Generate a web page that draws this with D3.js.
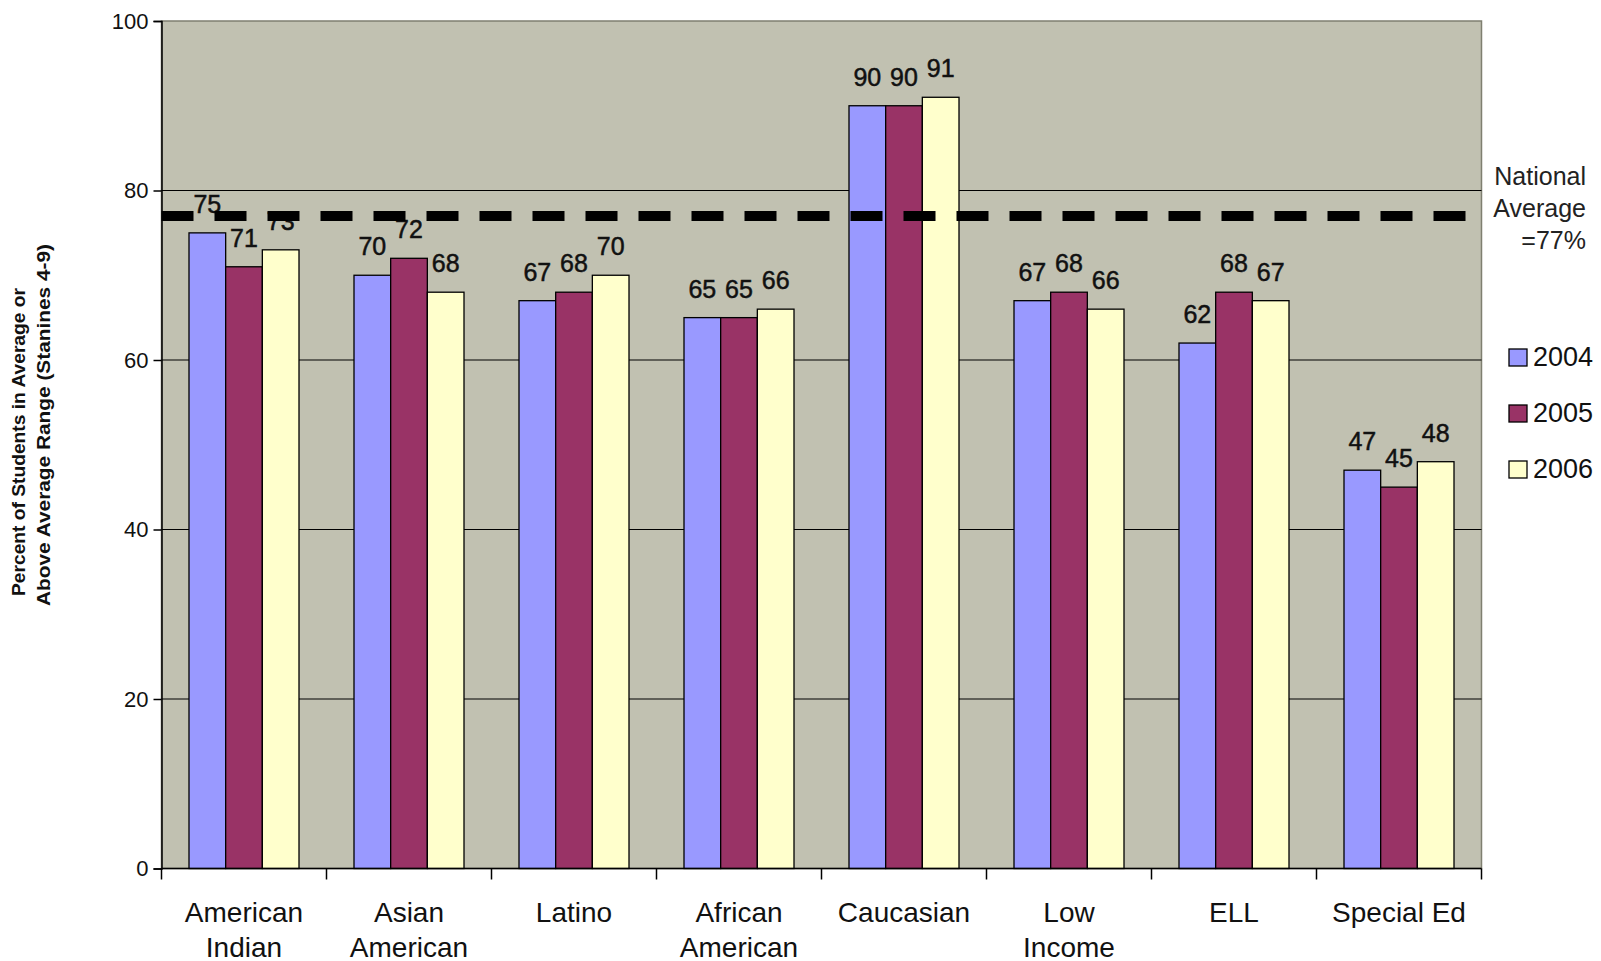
<!DOCTYPE html>
<html>
<head>
<meta charset="utf-8">
<script src="https://cdn.jsdelivr.net/npm/d3@7"></script>
<style>
  html, body { margin: 0; padding: 0; background: #ffffff; }
  svg { display: block; font-family: Arial, "Liberation Sans", sans-serif; }
</style>
</head>
<body>
<svg id="chart" width="1601" height="961"></svg>
<script>
// Student groups along the x axis (each may wrap onto two lines)
const categories = ["American Indian", "Asian American", "Latino", "African American",
                    "Caucasian", "Low Income", "ELL", "Special Ed"];
const categoryLines = [["American", "Indian"], ["Asian", "American"], ["Latino"], ["African", "American"],
                       ["Caucasian"], ["Low", "Income"], ["ELL"], ["Special Ed"]];
const years = ["2004", "2005", "2006"];

// Percent of students in the average or above-average range, per year
const values2004 = [75, 70, 67, 65, 90, 67, 62, 47];
const values2005 = [71, 72, 68, 65, 90, 68, 68, 45];
const values2006 = [73, 68, 70, 66, 91, 66, 67, 48];

const nationalAverage = 77;
const yTicks = [0, 20, 40, 60, 80, 100];
const yTitleLines = ["Percent of Students in Average or", "Above Average Range (Stanines 4-9)"];
const nationalLabelLines = ["National", "Average", "=77%"];

const seriesColors = { "2004": "#9999ff", "2005": "#993366", "2006": "#ffffcc" };
const seriesValues = { "2004": values2004, "2005": values2005, "2006": values2006 };

const svg = d3.select("#chart");
const plot = { left: 161.5, right: 1481.5, top: 21, bottom: 868.5 };

const x = d3.scaleBand().domain(categories).range([plot.left, plot.right]).paddingInner(0).paddingOuter(0);
const xSeries = d3.scaleBand().domain(years).range([0, x.bandwidth()]).paddingInner(0).paddingOuter(0.75);
const y = d3.scaleLinear().domain([0, 100]).range([plot.bottom, plot.top]);

// Plot background
svg.append("rect")
  .attr("x", plot.left).attr("y", plot.top)
  .attr("width", plot.right - plot.left).attr("height", plot.bottom - plot.top)
  .attr("fill", "#c1c1b1")
  .attr("stroke", "#7f7f70").attr("stroke-width", 1.5);

// Horizontal gridlines
svg.append("g").selectAll("line")
  .data(yTicks.filter(t => t > 0 && t < 100))
  .join("line")
  .attr("x1", plot.left).attr("x2", plot.right)
  .attr("y1", d => y(d)).attr("y2", d => y(d))
  .attr("stroke", "#000").attr("stroke-width", 1.2);

// Bars
const rows = categories.map((c, i) => years.map(yr => ({ category: c, year: yr, value: seriesValues[yr][i] })));
const groups = svg.append("g").selectAll("g")
  .data(rows)
  .join("g")
  .attr("transform", (d, i) => `translate(${x(categories[i])},0)`);

groups.selectAll("rect")
  .data(d => d)
  .join("rect")
  .attr("x", d => xSeries(d.year))
  .attr("y", d => y(d.value))
  .attr("width", xSeries.bandwidth())
  .attr("height", d => y(0) - y(d.value))
  .attr("fill", d => seriesColors[d.year])
  .attr("stroke", "#000").attr("stroke-width", 1.3);

// Value labels above the bars
groups.selectAll("text")
  .data(d => d)
  .join("text")
  .attr("x", d => xSeries(d.year) + xSeries.bandwidth() / 2)
  .attr("y", d => y(d.value) - 20)
  .attr("text-anchor", "middle")
  .attr("font-size", 25)
  .attr("fill", "#111")
  .attr("stroke", "#111").attr("stroke-width", 0.5)
  .text(d => Math.round(d.value));

// National average reference line
svg.append("line")
  .attr("x1", plot.left).attr("x2", plot.right)
  .attr("y1", y(nationalAverage)).attr("y2", y(nationalAverage))
  .attr("stroke", "#000").attr("stroke-width", 10)
  .attr("stroke-dasharray", "32 21");

// Y axis
const yAxis = svg.append("g")
  .attr("transform", `translate(${plot.left},0)`)
  .call(d3.axisLeft(y).tickValues(yTicks).tickSize(8).tickPadding(5));
yAxis.select(".domain").attr("stroke", "#000").attr("stroke-width", 1.5);
yAxis.selectAll(".tick line").attr("stroke", "#000").attr("stroke-width", 1.5);
yAxis.selectAll(".tick text").attr("font-size", 22).attr("fill", "#111")
  .attr("font-family", "Arial, 'Liberation Sans', sans-serif");

// X axis: baseline with ticks at category boundaries
const xAxis = svg.append("g");
xAxis.append("line")
  .attr("x1", plot.left).attr("x2", plot.right)
  .attr("y1", plot.bottom).attr("y2", plot.bottom)
  .attr("stroke", "#000").attr("stroke-width", 1.5);
const boundaries = categories.map(c => x(c)).concat([x(categories[categories.length - 1]) + x.bandwidth()]);
xAxis.selectAll("line.tick")
  .data(boundaries)
  .join("line")
  .attr("class", "tick")
  .attr("x1", d => d).attr("x2", d => d)
  .attr("y1", plot.bottom).attr("y2", plot.bottom + 11)
  .attr("stroke", "#000").attr("stroke-width", 1.5);

const catLabels = xAxis.selectAll("text")
  .data(categories)
  .join("text")
  .attr("x", d => x(d) + x.bandwidth() / 2)
  .attr("y", plot.bottom + 53)
  .attr("text-anchor", "middle")
  .attr("font-size", 28)
  .attr("fill", "#111");
catLabels.selectAll("tspan")
  .data((d, i) => categoryLines[i])
  .join("tspan")
  .attr("x", function () { return d3.select(this.parentNode).attr("x"); })
  .attr("dy", (d, i) => i === 0 ? 0 : 35)
  .text(d => d);

// Y axis title (two rotated lines)
svg.append("g").selectAll("text")
  .data(yTitleLines)
  .join("text")
  .attr("transform", (d, i) => `translate(${[25, 50][i]},${[442, 425][i]}) rotate(-90)`)
  .attr("text-anchor", "middle")
  .attr("font-size", 19)
  .attr("font-weight", "bold")
  .attr("fill", "#111")
  .attr("textLength", (d, i) => [308, 362][i])
  .attr("lengthAdjust", "spacingAndGlyphs")
  .text(d => d);

// National average note
svg.append("g").selectAll("text")
  .data(nationalLabelLines)
  .join("text")
  .attr("x", 1586)
  .attr("y", (d, i) => 185 + i * 32)
  .attr("text-anchor", "end")
  .attr("font-size", 25)
  .attr("fill", "#222")
  .text(d => d);

// Legend
const legend = svg.append("g").selectAll("g")
  .data(years)
  .join("g")
  .attr("transform", (d, i) => `translate(1509,${349 + i * 56})`);
legend.append("rect")
  .attr("width", 18).attr("height", 17)
  .attr("fill", d => seriesColors[d])
  .attr("stroke", "#000").attr("stroke-width", 1.3);
legend.append("text")
  .attr("x", 24).attr("y", 17)
  .attr("font-size", 27)
  .attr("fill", "#111")
  .text(d => d);
</script>
</body>
</html>
